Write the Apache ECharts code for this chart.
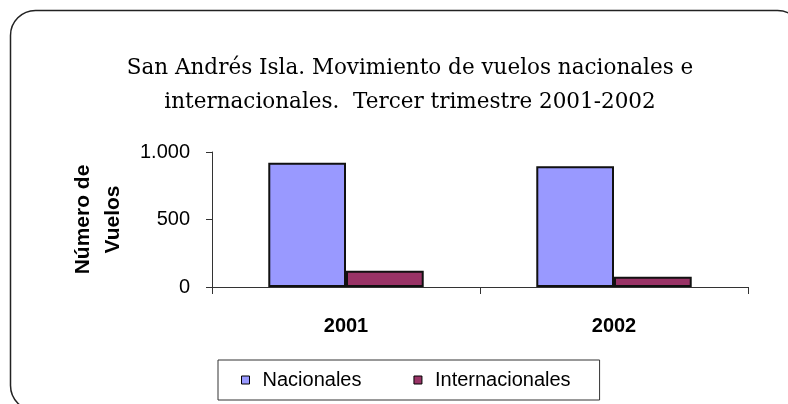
<!DOCTYPE html>
<html>
<head>
<meta charset="utf-8">
<script src="https://cdn.jsdelivr.net/npm/echarts@6/dist/echarts.min.js"></script>
<style>
  html, body { margin: 0; padding: 0; background: #fff; }
  #chart { width: 788px; height: 404px; }
</style>
</head>
<body>
<div id="chart"></div>
<script>
// data
const years = ['2001', '2002']
const nacionales = [921, 894]
const internacionales = [121, 76]
const yTicks = [0, 500, 1000]

const chart = echarts.init(document.getElementById('chart'))

chart.setOption({
  backgroundColor: '#fff',
  animation: false,
  title: {
    text: 'San Andrés Isla. Movimiento de vuelos nacionales e\ninternacionales.  Tercer trimestre 2001-2002',
    left: 405,
    top: 46,
    textAlign: 'center',
    textStyle: {
      fontFamily: 'DejaVu Serif',
      fontSize: 21.5,
      fontWeight: 'normal',
      lineHeight: 34,
      color: '#000'
    }
  },
  graphic: [{
    type: 'rect',
    shape: { x: 10.5, y: 10.5, width: 792, height: 400, r: 25 },
    style: { fill: 'none', stroke: '#222', lineWidth: 1.5 },
    silent: true,
    z: 100
  }],
  legend: {
    data: ['Nacionales', 'Internacionales'],
    left: 218,
    top: 360,
    orient: 'horizontal',
    icon: 'rect',
    itemWidth: 8,
    itemHeight: 8,
    itemGap: 52,
    padding: [10, 29, 10, 23],
    borderColor: '#333',
    borderWidth: 1,
    itemStyle: { borderColor: '#000', borderWidth: 1 },
    textStyle: {
      fontFamily: 'Liberation Sans',
      fontSize: 20,
      color: '#000',
      padding: [0, 0, 0, 8]
    }
  },
  grid: { left: 212, right: 40, top: 152, bottom: 117 },
  xAxis: {
    type: 'category',
    data: years,
    boundaryGap: true,
    axisLine: { lineStyle: { color: '#333', width: 1 } },
    axisTick: { show: true, length: 7, alignWithLabel: false, lineStyle: { color: '#333' } },
    axisLabel: {
      margin: 29,
      fontFamily: 'Liberation Sans',
      fontSize: 20,
      fontWeight: 'bold',
      color: '#000'
    },
    splitLine: { show: false }
  },
  yAxis: {
    type: 'value',
    min: yTicks[0],
    max: yTicks[yTicks.length - 1],
    interval: 500,
    name: 'Número de\nVuelos',
    nameLocation: 'middle',
    nameRotate: 90,
    nameGap: 84,
    nameTextStyle: {
      fontFamily: 'Liberation Sans',
      fontSize: 21,
      fontWeight: 'bold',
      lineHeight: 30,
      color: '#000'
    },
    axisLine: { show: true, lineStyle: { color: '#333', width: 1 } },
    axisTick: { show: true, length: 6, lineStyle: { color: '#333' } },
    axisLabel: {
      margin: 22,
      fontFamily: 'Liberation Sans',
      fontSize: 20,
      color: '#000',
      formatter: v => v.toString().replace(/\B(?=(\d{3})+(?!\d))/g, '.')
    },
    splitLine: { show: false }
  },
  series: [
    {
      name: 'Nacionales',
      type: 'bar',
      data: nacionales,
      barGap: '0%',
      barCategoryGap: '42%',
      itemStyle: { color: '#9999FF', borderColor: '#111', borderWidth: 2 }
    },
    {
      name: 'Internacionales',
      type: 'bar',
      data: internacionales,
      itemStyle: { color: '#993366', borderColor: '#111', borderWidth: 2 }
    }
  ]
})
</script>
</body>
</html>
